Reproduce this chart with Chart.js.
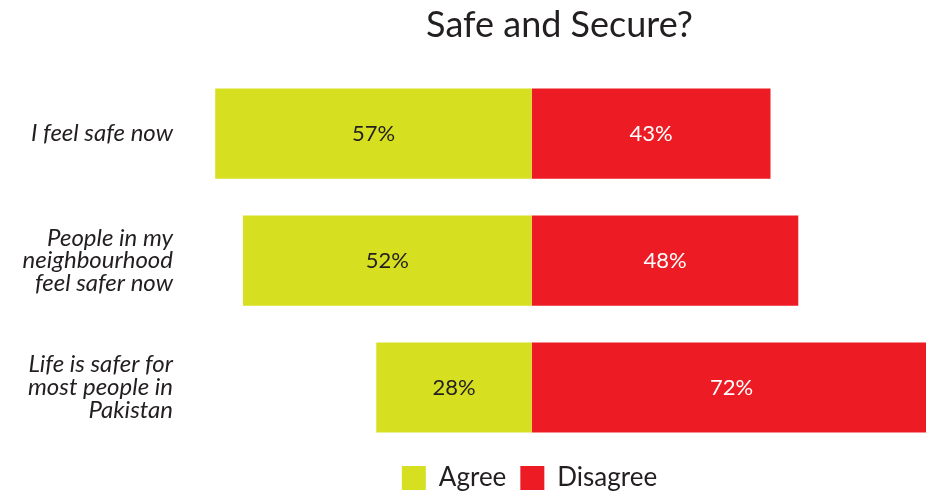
<!DOCTYPE html>
<html>
<head>
<meta charset="utf-8">
<script src="https://cdn.jsdelivr.net/npm/chart.js@4"></script>
<style>
  html, body { margin: 0; padding: 0; background: #fff; }
  #wrap { width: 926px; height: 491px; }
</style>
</head>
<body>
<div id="wrap"><canvas id="chart"></canvas></div>
<script>
const categories = [
  ["I feel safe now"],
  ["People in my", "neighbourhood", "feel safer now"],
  ["Life is safer for", "most people in", "Pakistan"]
];
const agreeValues = [57, 52, 28];
const disagreeValues = [43, 48, 72];

const INK = "#231f20";
const FONT = "Lato, 'DejaVu Sans', sans-serif";

// percent labels in the middle of each bar
const barLabels = {
  id: "barLabels",
  afterDatasetsDraw(chart) {
    const ctx = chart.ctx;
    ctx.save();
    ctx.font = "22px " + FONT;
    ctx.textAlign = "center";
    ctx.textBaseline = "middle";
    chart.data.datasets.forEach((ds, di) => {
      chart.getDatasetMeta(di).data.forEach((bar, i) => {
        const p = bar.getCenterPoint();
        ctx.fillStyle = di === 0 ? INK : "#fff";
        ctx.fillText(Math.abs(ds.data[i]) + "%", p.x, p.y);
      });
    });
    ctx.restore();
  }
};

// nudge legend under the zero line
const legendShift = {
  id: "legendShift",
  afterLayout(chart) {
    chart.legend.left -= 30;
    chart.legend.right -= 30;
  }
};

new Chart(document.getElementById("chart").getContext("2d"), {
  type: "bar",
  data: {
    labels: categories,
    datasets: [
      { label: "Agree", data: agreeValues.map(v => -v), backgroundColor: "#d6e021", barPercentage: 0.71, categoryPercentage: 1 },
      { label: "Disagree", data: disagreeValues, backgroundColor: "#ed1c24", barPercentage: 0.71, categoryPercentage: 1 }
    ]
  },
  options: {
    indexAxis: "y",
    responsive: true,
    maintainAspectRatio: false,
    animation: false,
    layout: { padding: { left: 0, right: 0, top: 0, bottom: -10 } },
    scales: {
      x: { stacked: true, display: false, min: -61, max: 71 },
      y: {
        stacked: true,
        grid: { display: false },
        border: { display: false },
        ticks: { color: INK, padding: 12, font: { family: FONT, size: 24, style: "italic", lineHeight: 0.95 } },
        afterFit(scale) { scale.width = 193; }
      }
    },
    plugins: {
      title: {
        display: true,
        text: "Safe and Secure?",
        fullSize: false,
        color: INK,
        font: { family: FONT, size: 36, weight: "normal" },
        padding: { top: 4, bottom: 23 }
      },
      legend: {
        position: "bottom",
        fullSize: false,
        labels: { color: INK, boxWidth: 24, boxHeight: 24, padding: 14, font: { family: FONT, size: 26 } }
      },
      tooltip: { enabled: false }
    }
  },
  plugins: [barLabels, legendShift]
});
</script>
</body>
</html>
